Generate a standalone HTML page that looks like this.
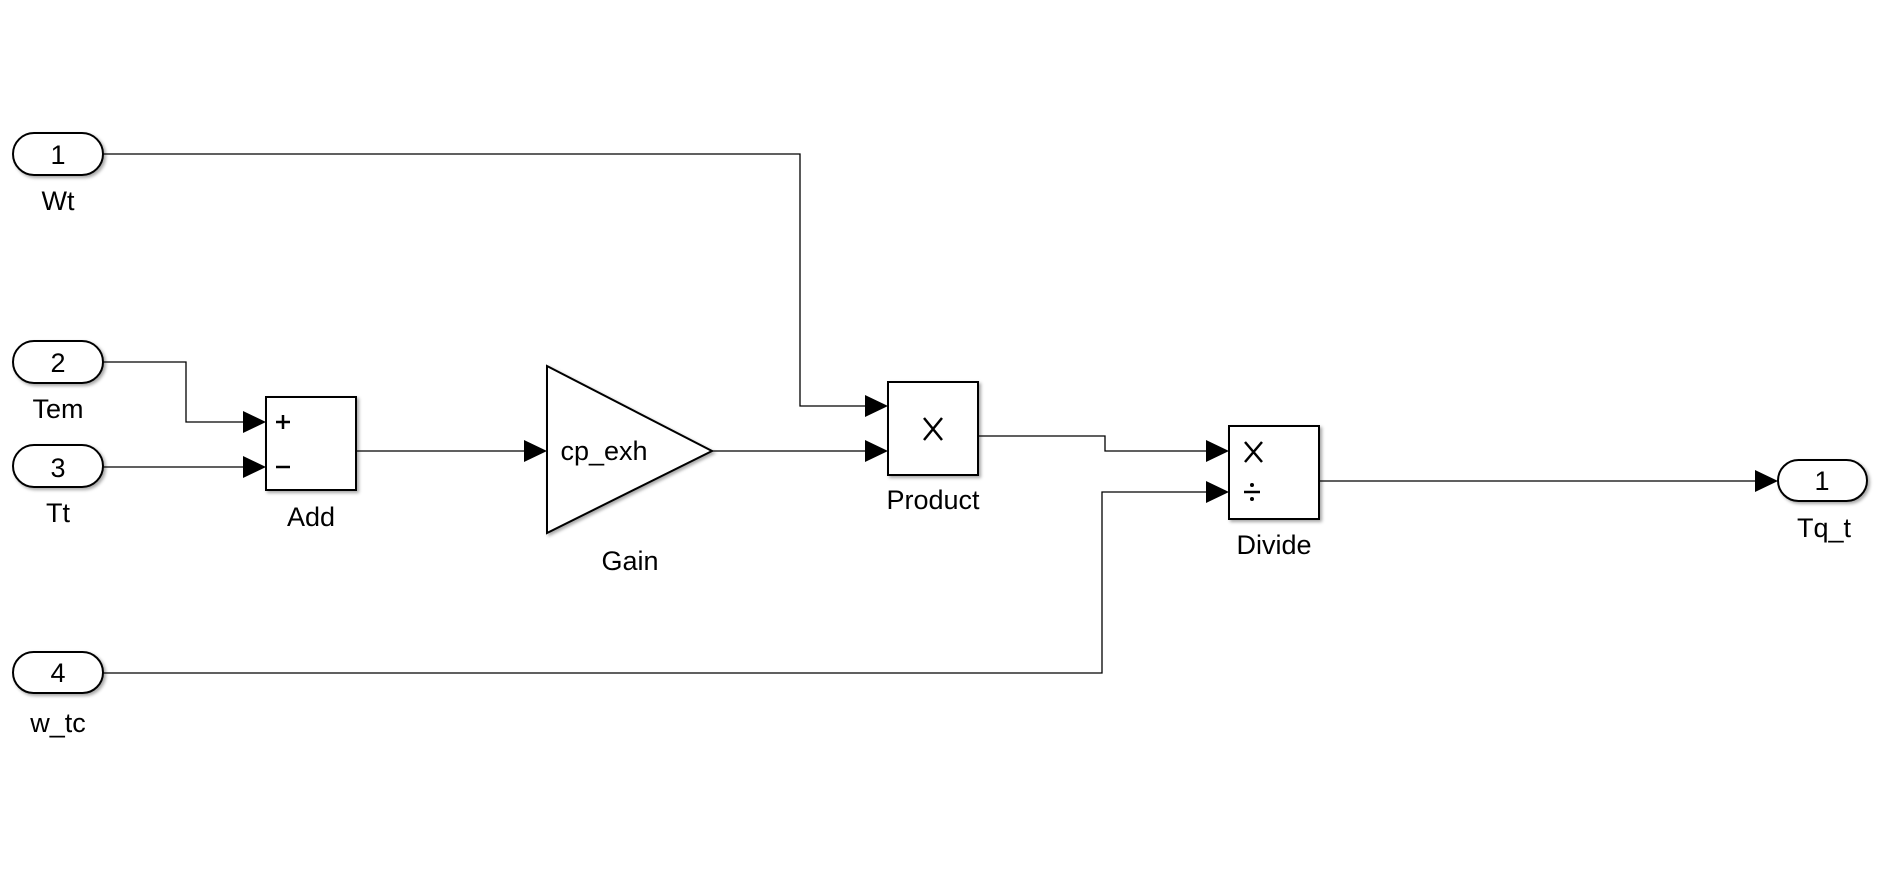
<!DOCTYPE html>
<html><head><style>body{margin:0;background:#fff}svg{display:block}</style></head><body>
<svg width="1886" height="879" viewBox="0 0 1886 879" xmlns="http://www.w3.org/2000/svg" font-family="Liberation Sans, Arial, sans-serif">
<defs><filter id="sh" x="-10%" y="-10%" width="130%" height="130%"><feDropShadow dx="2" dy="2" stdDeviation="1.5" flood-color="#000" flood-opacity="0.35"/></filter></defs>
<g fill="#fff" stroke="#000" stroke-width="2" filter="url(#sh)">
<rect x="13" y="133" width="90" height="42" rx="21"/>
<rect x="13" y="341" width="90" height="42" rx="21"/>
<rect x="13" y="445" width="90" height="42" rx="21"/>
<rect x="13" y="652" width="90" height="41" rx="20.5"/>
<rect x="1778" y="460" width="89" height="41" rx="20.5"/>
<rect x="266" y="397" width="90" height="93"/>
<polygon points="547,366 712,451 547,533"/>
<rect x="888" y="382" width="90" height="93"/>
<rect x="1229" y="426" width="90" height="93"/>
</g>
<g fill="none" stroke="#000" stroke-width="1.3">
<polyline points="103,154 800,154 800,406 870,406"/>
<polyline points="103,362 186,362 186,422 245,422"/>
<polyline points="103,467 245,467"/>
<polyline points="356,451 527,451"/>
<polyline points="712,451 870,451"/>
<polyline points="978,436 1105,436 1105,451 1210,451"/>
<polyline points="103,673 1102,673 1102,492 1210,492"/>
<polyline points="1319,481 1758,481"/>
</g>
<g fill="#000">
<polygon points="243,411 266,422 243,433"/>
<polygon points="243,456 266,467 243,478"/>
<polygon points="524,440 547,451 524,462"/>
<polygon points="865,395 888,406 865,417"/>
<polygon points="865,440 888,451 865,462"/>
<polygon points="1206,440 1229,451 1206,462"/>
<polygon points="1206,481 1229,492 1206,503"/>
<polygon points="1755,470 1778,481 1755,492"/>
</g>
<g stroke="#000" stroke-width="2.5" fill="none">
<path d="M924,418 L942,440 M942,418 L924,440"/>
<path d="M1245,442 L1262,462 M1262,442 L1245,462"/>
<path d="M1244,492 L1260,492"/>
<path d="M276,422 L290,422 M283,415 L283,429"/>
<path d="M276,467 L290,467"/>
</g>
<g fill="#000"><circle cx="1252" cy="485" r="2"/><circle cx="1252" cy="499" r="2"/></g>
<g font-size="27" text-anchor="middle" fill="#000">
<text x="58" y="164">1</text>
<text x="58" y="372">2</text>
<text x="58" y="477">3</text>
<text x="58" y="682">4</text>
<text x="1822" y="490">1</text>
<text x="58" y="210">Wt</text>
<text x="58" y="418">Tem</text>
<text x="58" y="522">Tt</text>
<text x="58" y="732">w_tc</text>
<text x="311" y="526">Add</text>
<text x="630" y="570">Gain</text>
<text x="933" y="509">Product</text>
<text x="1274" y="554">Divide</text>
<text x="1824" y="537">Tq_t</text>
<text x="604" y="460">cp_exh</text>
</g>
</svg>
</body></html>
